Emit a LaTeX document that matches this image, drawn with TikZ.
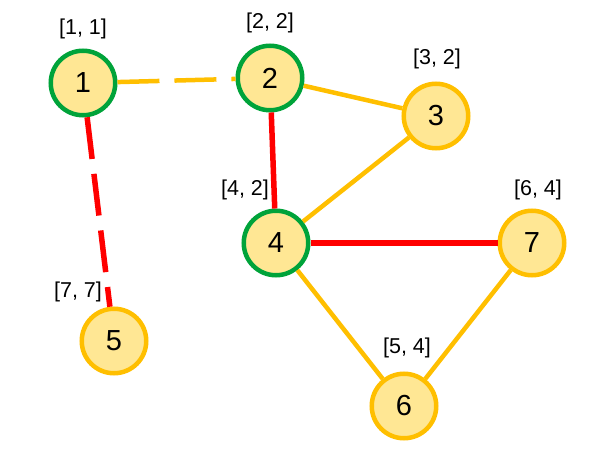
\documentclass[tikz,border=0pt]{standalone}
\usepackage{fontspec}
\setmainfont{Liberation Sans}
\definecolor{nfill}{RGB}{255,231,148}
\definecolor{orng}{RGB}{255,191,0}
\definecolor{grn}{RGB}{0,163,58}
\definecolor{rd}{RGB}{255,0,0}
\tikzset{
  vtx/.style={circle,draw,line width=4.5pt,fill=nfill,minimum size=64.5pt,inner sep=0pt,font=\fontsize{29}{29}\selectfont},
  gv/.style={vtx,draw=grn},
  ov/.style={vtx,draw=orng},
  lbl/.style={font=\fontsize{21.5}{21.5}\selectfont,inner sep=0pt},
  oe/.style={draw=orng,line width=4.5pt},
  re/.style={draw=rd,line width=5.5pt},
  dsh/.style={dash pattern=on 42pt off 15pt}
}
\begin{document}
\begin{tikzpicture}[x=1pt,y=-1pt]
\useasboundingbox (0,0) rectangle (598,457);
\node[gv] (n1) at (83,83) {1};
\node[gv] (n2) at (270,78) {2};
\node[ov] (n3) at (436,116) {3};
\node[gv] (n4) at (276,243) {4};
\node[ov] (n5) at (114,341) {5};
\node[ov] (n6) at (404,406) {6};
\node[ov] (n7) at (532,243) {7};
\node[lbl] (l1) at (83,29) {[1, 1]};
\node[lbl] (l2) at (270,23) {[2, 2]};
\node[lbl] (l3) at (437,59) {[3, 2]};
\node[lbl] (l4) at (245,190) {[4, 2]};
\node[lbl] (l7) at (538,190) {[6, 4]};
\node[lbl] (l5) at (78,292) {[7, 7]};
\node[lbl] (l6) at (407,348) {[5, 4]};
\draw[oe,dsh] (n1) -- (n2);
\draw[re,dsh] (n1) -- (n5);
\draw[oe] (n2) -- (n3);
\draw[oe] (n3) -- (n4);
\draw[oe] (n4) -- (n6);
\draw[oe] (n6) -- (n7);
\draw[re] (n2) -- (n4);
\draw[re] (n4) -- (n7);
\end{tikzpicture}
\end{document}
